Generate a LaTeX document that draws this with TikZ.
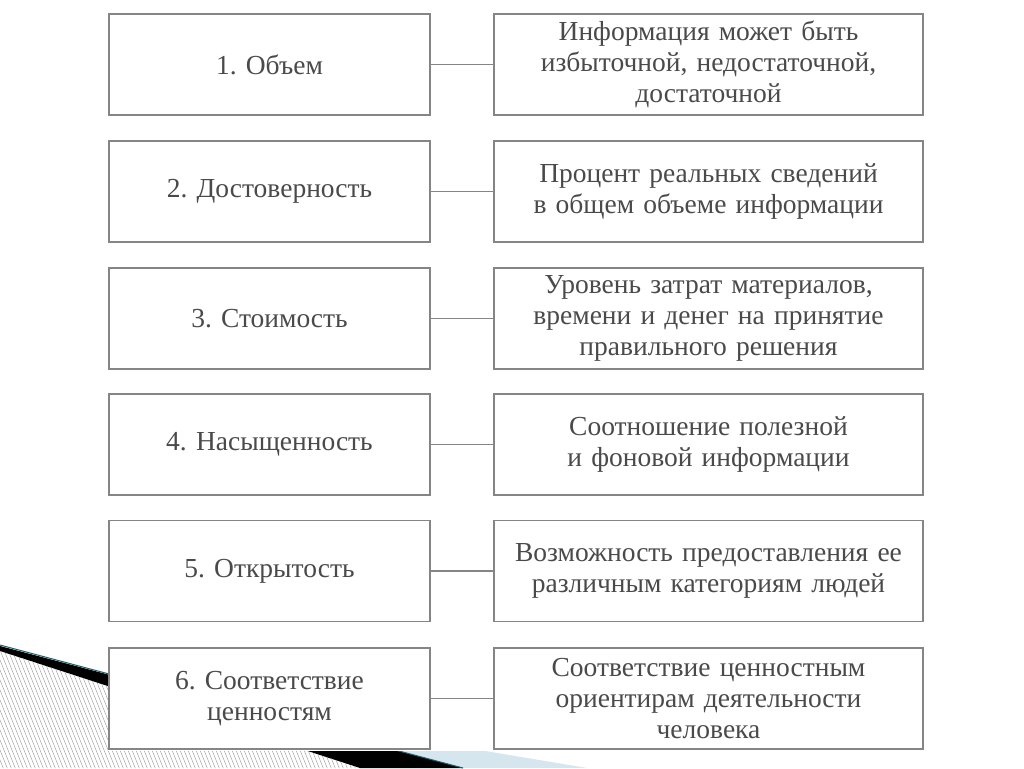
\documentclass[tikz,border=0pt]{standalone}
\usepackage{fontspec}
\setmainfont{Liberation Serif}
\frenchspacing
\definecolor{boxline}{HTML}{858585}
\definecolor{txt}{HTML}{4A4A4A}
\definecolor{wedge}{HTML}{D5E6EE}
\definecolor{teal}{HTML}{1E5F6E}
\begin{document}
\begin{tikzpicture}[x=1pt,y=-1pt,
  box/.style={draw=boxline,line width=1.8pt,fill=white,align=center,text=txt,
    font=\fontsize{27.5}{31}\selectfont,minimum height=101pt,inner sep=2pt},
  lbox/.style={box,minimum width=321pt,text width=310pt},
  rbox/.style={box,minimum width=429pt,text width=420pt},
  link/.style={draw=boxline,line width=1.8pt}]
\useasboundingbox (0,0) rectangle (1024,768);
% slide decoration
\fill[wedge] (300,720) -- (587,768) -- (463,768) -- (300,726) -- cycle;
\fill[black] (0,646) -- (463,768) -- (360,768) -- (0,651) -- cycle;
\draw[teal,line width=1pt] (0,645) -- (463,768);
\begin{scope}
  \clip (0,651) -- (360,768) -- (0,768) -- cycle;
  \foreach \i in {-200,-196,...,400} {
    \draw[gray!70,line width=0.5pt] (\i,640) -- (\i+52,770);
  }
\end{scope}
% picture background
\fill[white] (108,0) rectangle (935,751);
% boxes
\node[lbox] (l1) at (269.5,64.5) {1. Объем};
\node[rbox] (r1) at (708.5,64.5) {Информация может быть\\избыточной, недостаточной,\\достаточной};
\node[lbox] (l2) at (269.5,191.5) {2. Достоверность};
\node[rbox] (r2) at (708.5,191.5) {Процент реальных сведений\\в общем объеме информации};
\node[lbox] (l3) at (269.5,318.5) {3. Стоимость};
\node[rbox] (r3) at (708.5,318.5) {Уровень затрат материалов,\\времени и денег на принятие\\правильного решения};
\node[lbox] (l4) at (269.5,444.5) {4. Насыщенность};
\node[rbox] (r4) at (708.5,444.5) {Соотношение полезной\\и фоновой информации};
\node[lbox] (l5) at (269.5,571) {5. Открытость};
\node[rbox] (r5) at (708.5,571) {Возможность предоставления ее\\различным категориям людей};
\node[lbox] (l6) at (269.5,698.5) {6. Соответствие\\ценностям};
\node[rbox] (r6) at (708.5,698.5) {Соответствие ценностным\\ориентирам деятельности\\человека};
\foreach \k in {1,...,6} {
  \draw[link] (l\k.east) -- (r\k.west);
}
\end{tikzpicture}
\end{document}
